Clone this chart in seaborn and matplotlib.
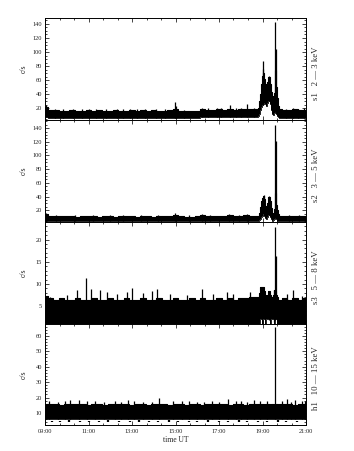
import numpy as np
import matplotlib
matplotlib.use("Agg")
import matplotlib.pyplot as plt
from matplotlib.ticker import FixedLocator, AutoMinorLocator, MultipleLocator
import seaborn as sns

# ---------------- data ----------------
# time in hours UT (15-min sampling, finer across the flare)
t_hours = [9.00, 9.25, 9.50, 9.75, 10.00, 10.25, 10.50, 10.75, 11.00, 11.25,
           11.50, 11.75, 12.00, 12.25, 12.50, 12.75, 13.00, 13.25, 13.50, 13.75,
           14.00, 14.25, 14.50, 14.75, 15.00, 15.25, 15.50, 15.75, 16.00, 16.25,
           16.50, 16.75, 17.00, 17.25, 17.50, 17.75, 18.00, 18.25, 18.50, 18.75,
           18.80, 18.85, 18.90, 18.95, 19.00, 19.05, 19.10, 19.15, 19.20, 19.25,
           19.30, 19.35, 19.40, 19.45, 19.50, 19.55, 19.60, 19.65, 19.70, 19.75,
           19.80, 20.00, 20.25, 20.50, 20.75, 21.00]

# s1 2-3 keV : upper / lower envelope of the count rate (c/s)
s1_hi = [22, 18, 17.5, 17, 17, 17.5, 17, 17, 17.5, 17,
         17.5, 17, 17, 17.5, 17, 17, 18, 17, 17.5, 17,
         17.5, 17, 17, 17.5, 19, 17, 16, 16, 16.5, 18.5,
         18, 18, 18.5, 18, 19, 18, 18.5, 19.5, 18.5, 19,
         21, 30, 40, 55, 66, 70, 62, 55, 48, 58,
         65, 55, 44, 36, 38, 42, 75, 50, 35, 23,
         19, 18, 18, 18.5, 18, 18]
s1_lo = [8, 7, 7, 7, 7, 7, 7, 7, 7, 7,
         7, 7, 7, 7, 7, 7, 7, 7, 7, 7,
         7, 7, 7, 7, 7, 7, 7, 7, 7, 8,
         8, 8, 8, 8, 8, 8, 8, 8, 8, 8,
         9, 12, 18, 22, 25, 27, 28, 26, 24, 28,
         30, 26, 18, 12, 11, 14, 16, 12, 9, 8,
         7, 6.5, 6.5, 6.5, 6.5, 6.5]
s1_spike_t = [9.04, 9.10, 9.45, 9.85, 10.30, 10.70, 11.00, 11.35, 11.80, 12.30,
              12.60, 12.90, 13.25, 13.60, 14.10, 14.50, 14.98, 15.02, 15.40, 16.20,
              16.50, 16.90, 17.10, 17.50, 17.80, 18.00, 18.27, 18.60, 19.00, 19.04,
              19.30, 19.585, 19.61, 20.10, 20.40, 20.65, 20.90]
s1_spike_v = [24.5, 22, 19, 18.5, 19.5, 19, 18.5, 19, 19, 18.5,
              19, 19.5, 18.5, 19, 19.5, 18.5, 28.5, 24, 18, 21,
              20.5, 21, 20, 25, 20.5, 20, 27, 21, 76, 87,
              66, 143, 105, 19.5, 20, 19.5, 20]

# s2 3-5 keV
s2_hi = [15, 12, 11.5, 11.5, 11.5, 11.5, 11, 11.5, 11.5, 11.5,
         11, 11.5, 11.5, 11, 11.5, 11.5, 11.5, 11, 11.5, 11.5,
         11, 11.5, 11.5, 11.5, 13, 11.5, 11, 11, 11.5, 12.5,
         11.5, 11.5, 12, 11.5, 12.5, 11.5, 12, 12.5, 12, 12,
         12, 16, 25, 34, 38, 41, 36, 27, 21, 30,
         40, 33, 24, 14, 16, 22, 45, 28, 20, 14,
         12, 11.5, 11.5, 11.5, 11.5, 11.5]
s2_lo = [4.3, 4.3, 4.3, 4.3, 4.3, 4.3, 4.3, 4.3, 4.3, 4.3,
         4.3, 4.3, 4.3, 4.3, 4.3, 4.3, 4.3, 4.3, 4.3, 4.3,
         4.3, 4.3, 4.3, 4.3, 4.3, 4.3, 4.3, 4.3, 4.3, 4.3,
         4.3, 4.3, 4.3, 4.3, 4.3, 4.3, 4.3, 4.3, 4.3, 4.3,
         5, 6, 8, 10, 12, 14, 12, 9, 8, 10,
         13, 10, 7, 5, 6, 8, 9, 7, 5, 4.5,
         4.5, 4.3, 4.3, 4.3, 4.3, 4.3]
s2_spike_t = [9.05, 9.50, 10.40, 11.20, 12.00, 12.60, 13.40, 14.20, 14.98, 15.60,
              16.20, 16.60, 17.45, 17.90, 18.30, 19.05, 19.30, 19.585, 19.605, 20.20,
              20.70]
s2_spike_v = [15.7, 13, 13, 12.5, 13, 12.5, 13, 12.5, 16.6, 12.5,
              15, 13, 14, 13, 14.5, 42, 41, 145, 121, 13,
              12.5]

# s3 5-8 keV
s3_hi = [7.2, 6.8, 6.5, 6.8, 6.5, 6.5, 6.8, 6.5, 6.5, 6.8,
         6.5, 6.5, 6.8, 6.5, 6.5, 6.8, 6.5, 6.5, 6.8, 6.5,
         6.5, 6.8, 6.5, 6.5, 6.8, 6.5, 6.5, 6.8, 6.5, 6.8,
         6.5, 6.5, 6.8, 6.5, 6.8, 6.5, 6.8, 6.8, 7.0, 7.0,
         7, 8, 9.3, 9.4, 9.4, 9.3, 8.5, 7.5, 7, 7.5,
         8.5, 7.5, 7, 7, 7.5, 8.7, 8.5, 7.5, 7, 6.5,
         6.5, 6.8, 6.5, 6.8, 6.5, 6.8]
s3_lo = [1.1, 1.1, 1.1, 1.1, 1.1, 1.1, 1.1, 1.1, 1.1, 1.1,
         1.1, 1.1, 1.1, 1.1, 1.1, 1.1, 1.1, 1.1, 1.1, 1.1,
         1.1, 1.1, 1.1, 1.1, 1.1, 1.1, 1.1, 1.1, 1.1, 1.1,
         1.1, 1.1, 1.1, 1.1, 1.1, 1.1, 1.1, 1.1, 1.1, 1.1,
         1.1, 1.1, 2.2, 2.2, 1.1, 2.2, 2.2, 1.1, 2.2, 2.2,
         2.2, 1.1, 2.2, 2.2, 2.2, 1.1, 2.2, 2.2, 1.1, 1.1,
         1.1, 1.1, 1.1, 1.1, 1.1, 1.1]
s3_spike_t = [9.23, 10.00, 10.46, 10.89, 11.10, 11.53, 11.84, 12.30, 12.76, 12.99,
              13.52, 13.91, 14.14, 14.75, 15.52, 16.20, 16.74, 17.35, 17.66, 18.43,
              19.31, 19.53, 19.585, 19.605, 20.11, 20.42, 20.80]
s3_spike_v = [7.1, 7.45, 8.6, 11.4, 8.9, 8.6, 8.2, 7.7, 8.2, 9.1,
              8.0, 8.5, 8.8, 7.7, 7.45, 8.8, 7.7, 8.1, 7.7, 8.2,
              8.5, 8.7, 22.9, 16.2, 7.8, 8.6, 7.4]

# h1 10-15 keV
h1_hi = [16, 15.5, 15.5, 15, 15.5, 16, 15.5, 15.5, 15, 15.5,
         15.5, 15, 15.5, 16, 15.5, 15.5, 15, 15.5, 15.5, 15,
         15.5, 16, 15.5, 15, 15.5, 15.5, 15, 15.5, 15.5, 15,
         15.5, 15.5, 16, 15.5, 15, 15.5, 15.5, 15, 15.5, 15.5,
         15.5, 15.5, 15, 15.5, 15.5, 15.5, 15, 15.5, 15.5, 15.5,
         15.5, 15, 15.5, 15.5, 15.5, 15, 15.5, 15.5, 15.5, 15,
         15.5, 15.5, 15.5, 15, 15.5, 15.5]
h1_lo = [5.8] * 66
h1_spike_t = [9.20, 9.60, 9.90, 10.15, 10.58, 10.95, 11.30, 11.70, 12.20, 12.50,
              12.83, 13.10, 13.50, 13.90, 14.26, 14.90, 15.30, 15.60, 16.00, 16.30,
              16.70, 17.00, 17.40, 17.80, 18.00, 18.30, 18.60, 18.90, 19.20, 19.59,
              19.90, 20.11, 20.30, 20.50, 20.80, 20.95]
h1_spike_v = [17.5, 17, 17.5, 18.4, 18.2, 18, 17.5, 17, 17.5, 17.2,
              18.4, 17.5, 17.3, 17, 19.9, 17.5, 17.5, 17.6, 17, 17.3,
              17.5, 17, 19, 17.5, 17.5, 17, 18.4, 17.5, 17.5, 65.7,
              17.5, 19, 17.3, 18.2, 17.8, 17.5]
h1_dip_t = [9.3, 9.7, 10.1, 10.6, 11.0, 11.5, 11.9, 12.4, 12.9, 13.3,
            13.8, 14.2, 14.7, 15.1, 15.6, 16.0, 16.5, 17.0, 17.4, 17.9,
            18.3, 18.8, 19.2, 19.7, 20.1, 20.6]
h1_dip_v = [4.2, 4.0, 4.3, 4.1, 4.2, 4.0, 4.4, 4.2, 4.1, 4.3,
            4.0, 4.2, 4.4, 4.1, 4.2, 4.0, 4.3, 4.1, 4.2, 4.4,
            4.0, 4.2, 4.1, 4.3, 4.2, 4.0]

channel_labels = ["s1   2 \u2014 3 keV", "s2   3 \u2014 5 keV",
                  "s3   5 \u2014 8 keV", "h1   10 \u2014 15 keV"]
y_limits = [(3.5, 148.0), (3.3, 151.7), (1.1, 24.0), (2.0, 68.0)]
y_major = [20, 20, 5, 10]
y_minor_div = [4, 4, 5, 5]
x_ticks = [9, 11, 13, 15, 17, 19, 21]
x_tick_labels = ["09:00", "11:00", "13:00", "15:00", "17:00", "19:00", "21:00"]

# ---------------- styling ----------------
sns.set_theme(style="ticks")
plt.rcParams["font.family"] = ["Liberation Serif", "DejaVu Serif"]
plt.rcParams["axes.linewidth"] = 0.7

fig, axes = plt.subplots(4, 1, figsize=(3.54, 4.51), dpi=100, sharex=True)
fig.subplots_adjust(left=45 / 354, right=306 / 354, top=1 - 18.3 / 451,
                    bottom=1 - 425.3 / 451, hspace=0)

panels = [
    (s1_hi, s1_lo, s1_spike_t, s1_spike_v),
    (s2_hi, s2_lo, s2_spike_t, s2_spike_v),
    (s3_hi, s3_lo, s3_spike_t, s3_spike_v),
    (h1_hi, h1_lo, h1_spike_t, h1_spike_v),
]

for i, (ax, (hi, lo, st, sv)) in enumerate(zip(axes, panels)):
    hi_a = np.array(hi, dtype=float)
    lo_a = np.array(lo, dtype=float)
    ax.fill_between(t_hours, lo_a, hi_a, step="mid", color="black", lw=0)
    sns.lineplot(x=t_hours, y=hi_a, ax=ax, color="black", lw=0.8,
                 drawstyle="steps-mid", estimator=None, sort=False)
    sns.lineplot(x=t_hours, y=lo_a, ax=ax, color="black", lw=0.6,
                 drawstyle="steps-mid", estimator=None, sort=False)
    # base of each spike = envelope value at that time
    base = np.interp(st, t_hours, lo_a)
    ax.vlines(st, base, sv, color="black", lw=0.9)
    if i == 3:
        ax.vlines(h1_dip_t, h1_dip_v, np.array(h1_dip_v) + 0.9, color="black", lw=1.6)

    ax.set_xlim(9, 21)
    ax.set_ylim(*y_limits[i])
    ax.yaxis.set_major_locator(MultipleLocator(y_major[i]))
    ax.yaxis.set_minor_locator(AutoMinorLocator(y_minor_div[i]))
    ax.xaxis.set_major_locator(FixedLocator(x_ticks))
    ax.xaxis.set_minor_locator(AutoMinorLocator(3))
    ax.tick_params(which="both", direction="in", top=True, right=True,
                   labelsize=4.6, width=0.6, pad=2)
    ax.tick_params(which="major", length=3.0)
    ax.tick_params(which="minor", length=1.6)
    for sp in ax.spines.values():
        sp.set_linewidth(0.7)
        sp.set_color("black")
    ax.set_ylabel("c/s", fontsize=5.5, labelpad=6)
    ax.yaxis.set_label_coords(-0.068, 0.5)
    ax.text(1.038, 0.46, channel_labels[i], rotation=90, transform=ax.transAxes,
            ha="center", va="center", fontsize=6.3)
    ax.set_facecolor("white")

axes[-1].set_xticks(x_ticks)
axes[-1].set_xticklabels(x_tick_labels)
axes[-1].tick_params(axis="x", pad=3)
axes[-1].set_xlabel("time UT", fontsize=5.5, labelpad=1)

fig.savefig("out.png", dpi=100, facecolor="white")
